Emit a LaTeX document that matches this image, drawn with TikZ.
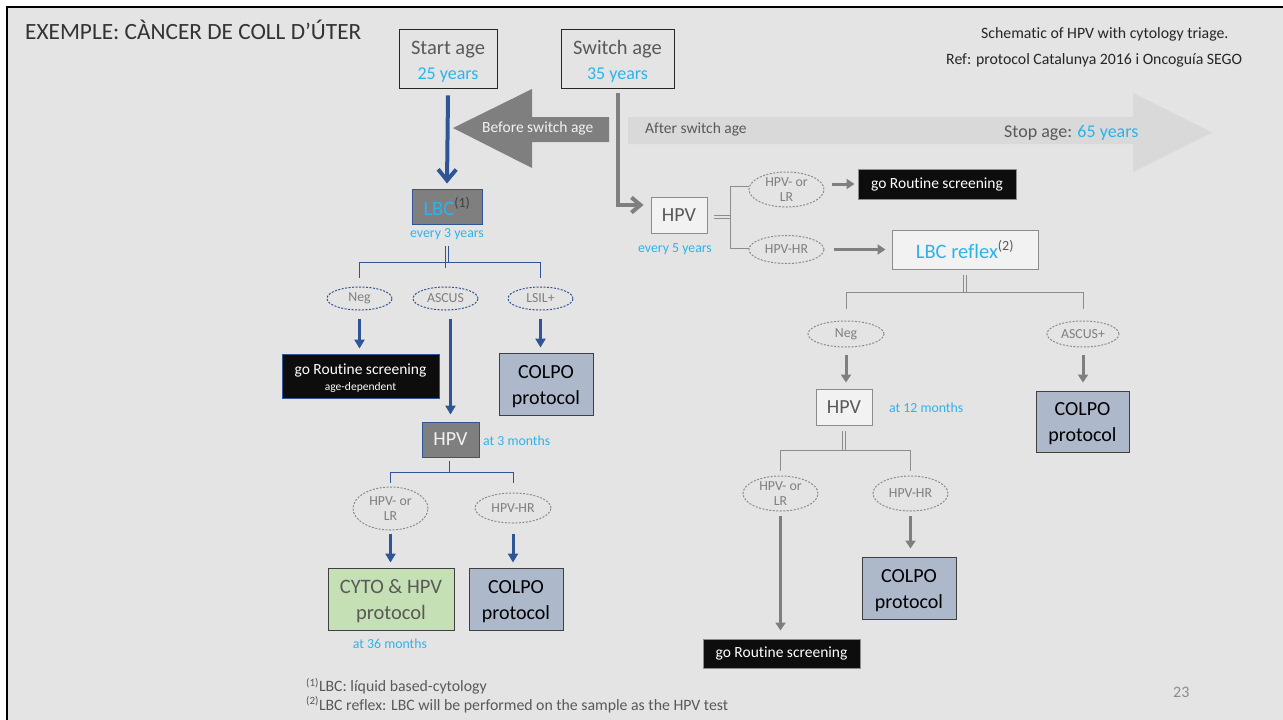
\documentclass[tikz,border=0pt]{standalone}
\usepackage{fontspec}
\setmainfont{Carlito}[Ligatures=NoCommon]
\usetikzlibrary{arrows.meta,shapes.geometric}

\definecolor{slide}{HTML}{E4E4E4}
\definecolor{ink}{HTML}{595959}
\definecolor{inkdark}{HTML}{404040}
\definecolor{sky}{HTML}{2DB3EC}
\definecolor{navy}{HTML}{2F5597}
\definecolor{midgrey}{HTML}{7F7F7F}
\definecolor{linegrey}{HTML}{8C8C8C}
\definecolor{lightarrow}{HTML}{D9D9D9}
\definecolor{pale}{HTML}{F2F2F2}
\definecolor{colpofill}{HTML}{ADB9CA}
\definecolor{cytofill}{HTML}{C5E0B4}
\definecolor{night}{HTML}{0D0D0D}

\newcommand{\setsize}[2]{\fontsize{#1}{#2}\selectfont}
% invisible strut that pads the first line of a two-line box
\newcommand{\padtop}[1]{\rule{0pt}{#1}}

\tikzset{
  box/.style={rectangle, inner sep=0pt, align=center, line width=0.9pt},
  agebox/.style={box, draw=black!85, text=ink, font=\setsize{20.5}{24.5}},
  darkbox/.style={box, draw=navy, fill=midgrey, font=\setsize{20}{24}},
  nightbox/.style={box, fill=night, text=white, font=\setsize{15.5}{15}},
  colpobox/.style={box, draw=inkdark, fill=colpofill, text=black,
    font=\setsize{20}{26}, minimum width=94, minimum height=62},
  palebox/.style={box, draw=linegrey, fill=pale, text=ink, font=\setsize{20}{24}},
  oval/.style={ellipse, inner sep=0pt, dashed, dash pattern=on 2pt off 1.5pt,
    line width=1pt, text=midgrey, align=center, font=\setsize{13.8}{14.5}},
  ovalblue/.style={oval, draw=navy},
  ovalgrey/.style={oval, draw=linegrey},
  note/.style={text=sky, font=\setsize{13.8}{16}, inner sep=0pt},
  barrow/.style={draw=navy, line width=3pt, -{Triangle[length=9pt,width=10pt]}},
  garrow/.style={draw=midgrey, line width=3pt, -{Triangle[length=8pt,width=10pt]}},
  btree/.style={draw=navy, line width=1pt},
  gtree/.style={draw=linegrey, line width=1pt},
  dbl/.style={double=slide, double distance=2pt, line width=0.8pt},
}

\begin{document}
\begin{tikzpicture}[x=1pt,y=-1pt]
\useasboundingbox (0,0) rectangle (1283,720);
% slide and its frame
\fill[white] (0,0) rectangle (1283,720);
\fill[slide] (7,7) rectangle (1283,720);
\draw[black, line width=2.5pt] (7,720) -- (7,7) -- (1283,7);

% headings
\node[anchor=base west, inner sep=0pt, text=black!80, font=\setsize{23.3}{26}] (title) at (25,39) {EXEMPLE: CÀNCER DE COLL D’ÚTER};
\node[anchor=base west, inner sep=0pt, text=black!85, font=\setsize{15.8}{18}] (sub1) at (981,38.5) {Schematic of HPV with cytology triage.};
\node[anchor=base west, inner sep=0pt, text=black!85, font=\setsize{15.8}{18}] (sub2) at (946,64.5) {Ref: protocol Catalunya 2016 i Oncoguía SEGO};

% age boxes
\node[agebox, minimum width=98, minimum height=59] (start) at (448,58.5) {\padtop{20pt}Start age\\{\setsize{18}{22}\color{sky}25 years}};
\node[agebox, minimum width=113, minimum height=59] (switch) at (617.5,58.5) {\padtop{20pt}Switch age\\{\setsize{18}{22}\color{sky}35 years}};

% before / after switch age arrows
\fill[midgrey] (453,128) -- (532,89) -- (532,117) -- (609,117) -- (609,142) -- (532,142) -- (532,168) -- cycle;
\node[anchor=base west, inner sep=0pt, text=pale, font=\setsize{15.5}{18}] (before) at (482,132) {Before switch age};
\fill[lightarrow] (628,117) -- (1133,117) -- (1133,93) -- (1212,132.5) -- (1133,172) -- (1133,144) -- (628,144) -- cycle;
\node[anchor=base west, inner sep=0pt, text=ink, font=\setsize{15.5}{18}] (after) at (645,133.5) {After switch age};
\node[anchor=base west, inner sep=0pt, text=ink, font=\setsize{18}{20}] (stop) at (1004,137.5) {Stop age: {\color{sky}65 years}};

% ---------- before the switch age: cytology branch ----------
\node[darkbox, text=inkdark, minimum width=70, minimum height=35] (lbc) at (447,206.5) {{\color{sky}\setsize{20.5}{24}LBC}\textsuperscript{(1)}};
\node[note, anchor=base] (lbcnote) at (447,237.5) {every 3 years};
\draw[navy, line width=4pt, -{Straight Barb[length=11pt,width=18pt]}] ([yshift=-7pt]start.south) -- ([yshift=5pt]lbc.north);

\node[ovalblue, minimum width=65, minimum height=23] (neg) at (359.5,298.5) {Neg};
\node[ovalblue, minimum width=65, minimum height=23] (ascus) at (445.5,298.5) {ASCUS};
\node[ovalblue, minimum width=65, minimum height=23] (lsil) at (540.5,298.5) {LSIL+};

\coordinate (j1) at (447,262);
\draw[btree, dbl] ([yshift=-6pt]lbcnote.south) -- (lbcnote.south |- j1);
\draw[btree] ([yshift=9pt]neg.north) -- (neg.north |- j1) -- (lsil.north |- j1) -- ([yshift=9pt]lsil.north);
\draw[btree] (ascus.north |- j1) -- ++(0,6);

\node[nightbox, draw=navy, minimum width=157, minimum height=44] (routL) at (360.5,376) {\padtop{14pt}go Routine screening\\[1pt]{\setsize{11.5}{13}age-dependent}};
\node[colpobox] (colpoL1) at (546,384) {\padtop{18pt}COLPO\\protocol};
\node[darkbox, text=pale, minimum width=57, minimum height=35] (hpvL) at (450.5,439.5) {HPV};
\node[note, anchor=base west] (hpvLnote) at (483,445.5) {at 3 months};

\draw[barrow, shorten <=8pt, shorten >=5pt] (neg.south) -- (neg.south |- routL.north);
\draw[barrow, shorten <=8pt, shorten >=7pt] (ascus.south -| hpvL.north) -- (hpvL.north);
\draw[barrow, shorten <=8pt, shorten >=5pt] (lsil.south) -- (lsil.south |- colpoL1.north);

\node[ovalgrey, minimum width=75, minimum height=43] (lr1) at (390.5,508.5) {HPV- or\\LR};
\node[ovalgrey, minimum width=76, minimum height=30] (hr1) at (513,508) {HPV-HR};

\coordinate (j2) at (452,472);
\draw[btree, dbl] ([yshift=-4pt]hpvL.south) -- (hpvL.south |- j2);
\draw[btree] ([yshift=4pt]lr1.north) -- (lr1.north |- j2) -- (hr1.north |- j2) -- ([yshift=10pt]hr1.north);

\node[box, draw=inkdark, fill=cytofill, text=ink, font=\setsize{20.5}{26}, minimum width=126, minimum height=62] (cyto) at (391,599) {\padtop{18pt}CYTO \& HPV\\protocol};
\node[colpobox] (colpoL2) at (516,599) {\padtop{18pt}COLPO\\protocol};
\node[note, anchor=base] (cytonote) at (390,648.3) {at 36 months};

\draw[barrow, shorten <=3pt, shorten >=5pt] (lr1.south) -- (lr1.south |- cyto.north);
\draw[barrow, shorten <=10pt, shorten >=5pt] (hr1.south) -- (hr1.south |- colpoL2.north);

% ---------- after the switch age: HPV branch ----------
\node[palebox, minimum width=56, minimum height=36] (hpvR) at (679,215) {HPV};
\node[note, anchor=base] (hpvRnote) at (675,252) {every 5 years};
\draw[midgrey, line width=4pt, -{Straight Barb[length=9pt,width=15pt]}] ([yshift=-5pt]switch.south) |- ([xshift=-7pt,yshift=10pt]hpvR.west);

\node[ovalgrey, minimum width=75, minimum height=35] (lr2) at (786.5,189.5) {HPV- or\\LR};
\node[ovalgrey, minimum width=75, minimum height=28] (hr2) at (786.5,249.5) {HPV-HR};

\coordinate (j3) at (730,217);
\coordinate (up3) at (730,186);
\coordinate (dn3) at (730,248);
\draw[gtree, dbl] ([xshift=7pt]hpvR.east |- j3) -- (j3);
\draw[gtree] (lr2.west |- up3) -- (up3) -- (dn3) -- (hr2.west |- dn3);

\node[nightbox, draw=linegrey, minimum width=158, minimum height=30] (routR1) at (937,184) {go Routine screening};
\node[palebox, minimum width=146, minimum height=39] (lbcr) at (965,249.5) {{\color{sky}\setsize{20.5}{24}LBC reflex}\textsuperscript{(2)}};

\draw[garrow, shorten <=7pt, shorten >=3pt] (lr2.east |- routR1.west) -- (routR1.west);
\draw[garrow, shorten <=9pt, shorten >=6pt] (hr2.east) -- (hr2.east -| lbcr.west);

\node[ovalgrey, minimum width=76, minimum height=26] (neg2) at (846,334) {Neg};
\node[ovalgrey, minimum width=72, minimum height=26] (ascus2) at (1083,334) {ASCUS+};

\coordinate (j4) at (964,292);
\draw[gtree, dbl] ([yshift=-6pt]lbcr.south) -- (lbcr.south |- j4);
\draw[gtree] ([yshift=12pt]neg2.north) -- (neg2.north |- j4) -- (ascus2.north |- j4) -- ([yshift=12pt]ascus2.north);

\node[palebox, minimum width=56, minimum height=36] (hpvR2) at (844,407) {HPV};
\node[note, anchor=base west] (hpvR2note) at (889,412.3) {at 12 months};
\node[colpobox, minimum width=93, minimum height=61] (colpoR1) at (1082.5,421.5) {\padtop{18pt}COLPO\\protocol};

\draw[garrow, shorten <=7pt, shorten >=6pt] (neg2.south) -- (neg2.south |- hpvR2.north);
\draw[garrow, shorten <=7pt, shorten >=8pt] (ascus2.south) -- (ascus2.south |- colpoR1.north);

\node[ovalgrey, minimum width=75, minimum height=35] (lr3) at (780.5,493.5) {HPV- or\\LR};
\node[ovalgrey, minimum width=75, minimum height=35] (hr3) at (910.5,493.5) {HPV-HR};

\coordinate (j5) at (845.5,450);
\draw[gtree, dbl] ([yshift=-6pt]hpvR2.south) -- (hpvR2.south |- j5);
\draw[gtree] ([yshift=5pt]lr3.north) -- (lr3.north |- j5) -- (hr3.north |- j5) -- ([yshift=5pt]hr3.north);

\node[colpobox] (colpoR2) at (909,588) {\padtop{18pt}COLPO\\protocol};
\node[nightbox, draw=linegrey, minimum width=157, minimum height=29] (routR2) at (781.5,653.5) {go Routine screening};

\draw[garrow, shorten <=4pt, shorten >=8pt] (lr3.south) -- (lr3.south |- routR2.north);
\draw[garrow, shorten <=4pt, shorten >=8pt] (hr3.south) -- (hr3.south |- colpoR2.north);

% footnotes and page number
\node[anchor=base west, inner sep=0pt, text=ink, font=\setsize{15.8}{18}] (fn1) at (306,691.5) {\textsuperscript{(1)}LBC: líquid based-cytology};
\node[anchor=base west, inner sep=0pt, text=ink, font=\setsize{15.8}{18}] (fn2) at (306,710) {\textsuperscript{(2)}LBC reflex: LBC will be performed on the sample as the HPV test};
\node[anchor=base west, inner sep=0pt, text=linegrey, font=\setsize{16}{18}] (page) at (1173,697.5) {23};
\end{tikzpicture}
\end{document}
